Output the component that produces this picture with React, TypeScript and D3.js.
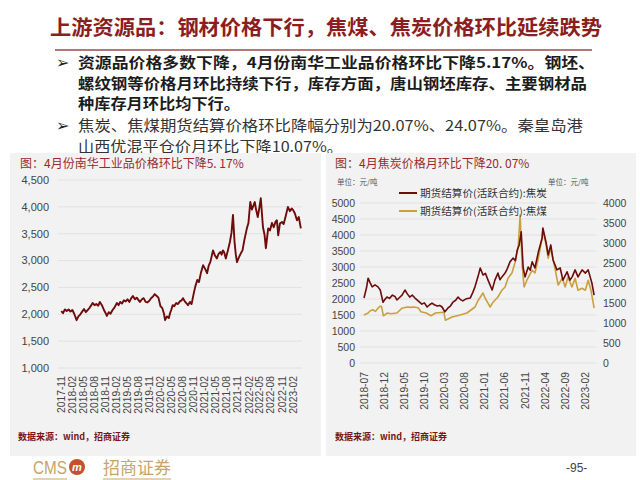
import React from "react";
import * as d3 from "d3";

// ---------- DATA ----------
const titleText = "上游资源品：钢材价格下行，焦煤、焦炭价格环比延续跌势";
const bullet1 = [
  "资源品价格多数下降，4月份南华工业品价格环比下降5.17%。钢坯、",
  "螺纹钢等价格月环比持续下行，库存方面，唐山钢坯库存、主要钢材品",
  "种库存月环比均下行。",
];
const bullet2 = [
  "焦炭、焦煤期货结算价格环比降幅分别为20.07%、24.07%。秦皇岛港",
  "山西优混平仓价月环比下降10.07%。",
];
const leftTitle = "图：4月份南华工业品价格环比下降5. 17%";
const rightTitle = "图：4月焦炭价格月环比下降20. 07%";
const sourceText = "数据来源：wind，招商证券";
const unitText = "单位：元/吨";
const legendNames = ["期货结算价(活跃合约):焦炭", "期货结算价(活跃合约):焦煤"];

const leftYTicks = [1000, 1500, 2000, 2500, 3000, 3500, 4000, 4500];
const leftXTicks = [
  "2017-11", "2018-02", "2018-05", "2018-08", "2018-11", "2019-02", "2019-05",
  "2019-08", "2019-11", "2020-02", "2020-05", "2020-08", "2020-11", "2021-02",
  "2021-05", "2021-08", "2021-11", "2022-02", "2022-05", "2022-08", "2022-11", "2023-02",
];
const rightYTicksL = [0, 500, 1000, 1500, 2000, 2500, 3000, 3500, 4000, 4500, 5000];
const rightYTicksR = [0, 500, 1000, 1500, 2000, 2500, 3000, 3500, 4000];
const rightXTicks = [
  "2018-07", "2018-12", "2019-05", "2019-10", "2020-03", "2020-08",
  "2021-01", "2021-06", "2021-11", "2022-04", "2022-09", "2023-02",
];

// 南华工业品指数
const nanhua: [string, number][] = [
  ["2017-11-03",2060],["2017-11-18",2020],["2017-12-03",2090],["2017-12-18",2060],["2018-01-03",2090],
  ["2018-01-18",2050],["2018-02-03",2080],["2018-02-18",2010],["2018-03-10",1890],["2018-03-25",1960],
  ["2018-04-10",2000],["2018-04-25",2050],["2018-05-10",2100],["2018-05-25",2040],["2018-06-10",2080],
  ["2018-06-25",2120],["2018-07-10",2170],["2018-07-20",2210],["2018-08-05",2170],["2018-08-20",2190],
  ["2018-09-05",2160],["2018-09-18",2230],["2018-10-05",2170],["2018-10-20",2090],["2018-11-05",2020],
  ["2018-11-15",1970],["2018-12-01",2040],["2018-12-15",2010],["2019-01-01",2080],["2019-01-15",2120],
  ["2019-02-06",2210],["2019-02-20",2170],["2019-03-05",2230],["2019-03-20",2200],["2019-04-05",2260],
  ["2019-04-20",2240],["2019-05-05",2280],["2019-05-20",2230],["2019-06-05",2300],["2019-06-18",2340],
  ["2019-07-05",2280],["2019-07-20",2310],["2019-08-05",2260],["2019-08-15",2230],["2019-09-01",2280],
  ["2019-09-15",2300],["2019-10-01",2230],["2019-10-15",2220],["2019-11-01",2250],["2019-11-15",2300],
  ["2019-12-01",2330],["2019-12-15",2375],["2020-01-01",2340],["2020-01-15",2310],["2020-02-01",2150],
  ["2020-02-15",2120],["2020-03-01",2010],["2020-03-10",1890],["2020-03-25",1960],["2020-04-10",1930],
  ["2020-04-20",2020],["2020-05-01",2090],["2020-05-12",2170],["2020-05-25",2150],["2020-06-10",2210],
  ["2020-06-25",2190],["2020-07-10",2240],["2020-07-25",2260],["2020-08-05",2300],["2020-08-20",2240],
  ["2020-09-05",2200],["2020-09-15",2170],["2020-10-01",2230],["2020-10-15",2190],["2020-11-01",2380],
  ["2020-11-15",2520],["2020-12-01",2640],["2020-12-15",2600],["2021-01-01",2780],["2021-01-18",2915],
  ["2021-02-05",2840],["2021-02-20",2765],["2021-03-05",2900],["2021-03-20",2980],["2021-04-10",3190],
  ["2021-04-25",3100],["2021-05-12",3040],["2021-05-25",3120],["2021-06-10",3160],["2021-06-20",3110],
  ["2021-07-01",3190],["2021-07-12",3150],["2021-07-25",3040],["2021-08-10",3180],["2021-08-28",3350],
  ["2021-09-10",3520],["2021-09-22",3850],["2021-10-05",3350],["2021-10-15",3120],["2021-10-25",2970],
  ["2021-11-10",3060],["2021-11-25",3130],["2021-12-10",3190],["2021-12-25",3380],["2022-01-15",3600],
  ["2022-01-28",3700],["2022-02-12",4090],["2022-02-25",3950],["2022-03-06",4000],["2022-03-21",4090],
  ["2022-04-01",3950],["2022-04-15",3810],["2022-04-28",3980],["2022-05-10",4160],["2022-05-28",3620],
  ["2022-06-10",3480],["2022-06-21",3230],["2022-07-10",3600],["2022-07-25",3560],["2022-08-10",3700],
  ["2022-08-25",3620],["2022-09-10",3730],["2022-09-20",3750],["2022-10-01",3470],["2022-10-15",3690],
  ["2022-11-01",3720],["2022-11-15",3680],["2022-12-01",3820],["2022-12-20",4000],["2023-01-05",3920],
  ["2023-01-20",3970],["2023-02-01",3940],["2023-02-15",3880],["2023-03-05",3750],["2023-03-20",3810],
  ["2023-04-06",3600],
];

// 焦炭 (left axis)
const coke: [string, number][] = [
  ["2018-07-01",2030],["2018-07-20",2350],["2018-08-01",2650],["2018-08-15",2520],["2018-09-01",2380],
  ["2018-09-22",2440],["2018-10-15",2380],["2018-11-01",2280],["2018-11-22",1900],["2018-12-05",1980],
  ["2018-12-22",2060],["2019-01-10",2020],["2019-02-01",2120],["2019-02-20",2080],["2019-03-07",1970],
  ["2019-03-25",2040],["2019-04-15",2120],["2019-05-07",2280],["2019-05-25",2160],["2019-06-12",2060],
  ["2019-07-01",2120],["2019-07-22",2030],["2019-08-15",1940],["2019-09-12",1840],["2019-10-01",1880],
  ["2019-10-22",1750],["2019-11-10",1820],["2019-11-28",1870],["2019-12-15",1820],["2020-01-07",1780],
  ["2020-01-25",1800],["2020-02-12",1750],["2020-03-04",1600],["2020-03-28",1720],["2020-04-15",1780],
  ["2020-05-04",1900],["2020-05-25",1960],["2020-06-12",2060],["2020-06-28",1990],["2020-07-18",1940],
  ["2020-08-15",2010],["2020-09-12",2030],["2020-10-01",2200],["2020-10-18",2380],["2020-11-10",2700],
  ["2020-11-27",2970],["2020-12-18",2750],["2021-01-05",2800],["2021-01-25",2590],["2021-02-25",2280],
  ["2021-03-18",2590],["2021-04-10",2810],["2021-04-25",2600],["2021-05-10",2690],["2021-06-03",2810],
  ["2021-06-20",2950],["2021-07-10",3160],["2021-08-03",3280],["2021-08-20",3200],["2021-09-03",3530],
  ["2021-09-18",3690],["2021-10-03",4100],["2021-10-18",2970],["2021-11-01",2690],["2021-11-25",3000],
  ["2021-12-10",2900],["2021-12-25",3160],["2022-01-15",2970],["2022-02-10",3470],["2022-03-10",3900],
  ["2022-03-16",4220],["2022-04-10",3750],["2022-04-25",3380],["2022-05-15",3690],["2022-06-01",3220],
  ["2022-07-01",2910],["2022-07-25",2970],["2022-08-15",2590],["2022-09-15",2850],["2022-10-07",2590],
  ["2022-10-25",2700],["2022-11-15",2910],["2022-12-07",2690],["2023-01-07",2910],["2023-02-01",2810],
  ["2023-02-22",2910],["2023-03-22",2500],["2023-04-08",2120],
];

// 焦煤 (right axis)
const coal: [string, number][] = [
  ["2018-07-01",1200],["2018-08-01",1250],["2018-08-15",1300],["2018-09-05",1330],["2018-09-25",1290],
  ["2018-10-15",1370],["2018-11-01",1420],["2018-11-10",1420],["2018-11-25",1180],["2018-12-25",1250],
  ["2019-01-20",1230],["2019-03-07",1250],["2019-04-15",1370],["2019-05-25",1400],["2019-06-20",1390],
  ["2019-07-15",1400],["2019-08-15",1380],["2019-09-05",1280],["2019-10-15",1250],["2019-11-20",1180],
  ["2019-12-25",1250],["2020-02-25",1270],["2020-03-08",1070],["2020-04-28",1150],["2020-06-27",1200],
  ["2020-08-18",1250],["2020-10-18",1400],["2020-11-12",1570],["2020-12-18",1750],["2021-01-03",1620],
  ["2021-02-10",1400],["2021-03-04",1520],["2021-04-10",1650],["2021-05-10",1820],["2021-06-03",1900],
  ["2021-06-25",2120],["2021-07-25",2250],["2021-08-18",2520],["2021-09-10",2900],["2021-09-25",3700],
  ["2021-10-10",2450],["2021-10-25",1900],["2021-11-15",2070],["2021-12-25",2320],["2022-01-15",2250],
  ["2022-02-10",2620],["2022-03-10",3120],["2022-03-16",3320],["2022-04-10",2950],["2022-04-25",2620],
  ["2022-05-15",2870],["2022-06-15",2370],["2022-07-10",1950],["2022-08-10",2120],["2022-09-01",1900],
  ["2022-09-22",2150],["2022-10-22",1900],["2022-11-15",2120],["2022-12-07",1820],["2023-01-07",1870],
  ["2023-02-01",1820],["2023-02-22",2070],["2023-03-15",1820],["2023-04-08",1370],
];

// ---------- COMPONENT ----------
const parse = d3.timeParse("%Y-%m-%d");
const parseM = d3.timeParse("%Y-%m");
const CJK = "'Noto Sans CJK SC', 'Noto Sans', sans-serif";
const NUM = "'Liberation Sans', Arial, sans-serif";
const DARK_RED = "#6E0B0B";
const GOLD = "#C9A040";
const TITLE_RED = "#8B1E1E";

export default function App() {
  // Left chart scales
  const lx = d3.scaleTime().domain([parseM("2017-11")!, parseM("2023-05")!]).range([61, 61 + 66 * 3.68]);
  const ly = d3.scaleLinear().domain([1000, 4500]).range([368, 180]);
  const lLine = d3.line<[string, number]>().x((d) => lx(parse(d[0])!)).y((d) => ly(d[1]));

  // Right chart scales
  const rx = d3.scaleTime().domain([parseM("2018-07")!, parseM("2023-05")!]).range([364, 364 + 58 * 4.02]);
  const ryL = d3.scaleLinear().domain([0, 5000]).range([363, 203]);
  const ryR = d3.scaleLinear().domain([0, 4000]).range([363, 203]);
  const cokeLine = d3.line<[string, number]>().x((d) => rx(parse(d[0])!)).y((d) => ryL(d[1]));
  const coalLine = d3.line<[string, number]>().x((d) => rx(parse(d[0])!)).y((d) => ryR(d[1]));

  const fmt = d3.format(",");
  const b1Widths = [517, 509, 162];
  const b2Widths = [505, 265];
  const b1Y = [68, 88.5, 109];
  const b2Y = [131, 151.5];

  return (
    <svg width={640} height={480} style={{ position: "absolute", left: 0, top: 0, background: "#fff" }}>
      {/* Title */}
      <text x={50} y={35} fontFamily={CJK} fontSize={20.5} fontWeight={700} fill={TITLE_RED}
        textLength={552} lengthAdjust="spacingAndGlyphs">{titleText}</text>
      <line x1={55} x2={592} y1={50} y2={50} stroke="#9B4A4A" strokeWidth={1.5} />

      {/* Bullets */}
      <text x={56} y={68} fontFamily="'DejaVu Sans', sans-serif" fontSize={16} fill="#222">➢</text>
      {bullet1.map((t, i) => (
        <text key={"b1" + i} x={78} y={b1Y[i]} fontFamily={CJK} fontSize={14.5} fontWeight={700}
          fill="#1c1c1c" textLength={b1Widths[i]} lengthAdjust="spacingAndGlyphs">{t}</text>
      ))}
      <text x={56} y={131} fontFamily="'DejaVu Sans', sans-serif" fontSize={16} fill="#222">➢</text>
      {bullet2.map((t, i) => (
        <text key={"b2" + i} x={78} y={b2Y[i]} fontFamily={CJK} fontSize={14.5} fontWeight={400}
          fill="#333" textLength={b2Widths[i]} lengthAdjust="spacingAndGlyphs">{t}</text>
      ))}

      {/* Panels */}
      <rect x={10} y={153} width={311} height={303} fill="#f2f2f2" />
      <rect x={326} y={153} width={310} height={303} fill="#f2f2f2" />

      {/* ---- Left chart ---- */}
      <text x={20} y={168} fontFamily={CJK} fontSize={12} fill="#9A2A2A">{leftTitle}</text>
      {leftYTicks.map((v) => (
        <g key={"ly" + v}>
          <line x1={58} x2={302} y1={ly(v)} y2={ly(v)} stroke="#dddddd" strokeWidth={0.8} />
          <text x={49} y={ly(v)} dy="0.35em" textAnchor="end" fontFamily={NUM} fontSize={11} fill="#444">{fmt(v)}</text>
        </g>
      ))}
      {leftXTicks.map((t) => (
        <text key={"lx" + t} transform={`translate(${lx(parseM(t)!)},376) rotate(-90)`} dy="0.35em"
          textAnchor="end" fontFamily={NUM} fontSize={10.3} fill="#444">{t}</text>
      ))}
      <path d={lLine(nanhua) || ""} fill="none" stroke={DARK_RED} strokeWidth={1.9} strokeLinejoin="round" />
      <text x={18} y={440} fontFamily={CJK} fontSize={9} fontWeight={700} fill="#7B1515">{sourceText}</text>

      {/* ---- Right chart ---- */}
      <text x={335} y={168} fontFamily={CJK} fontSize={12} fill="#9A2A2A">{rightTitle}</text>
      <text x={337} y={185} fontFamily={CJK} fontSize={7.5} fill="#555">{unitText}</text>
      <text x={548} y={185} fontFamily={CJK} fontSize={7.5} fill="#555">{unitText}</text>
      {rightYTicksL.map((v) => (
        <g key={"ryl" + v}>
          <line x1={360} x2={596} y1={ryL(v)} y2={ryL(v)} stroke="#dddddd" strokeWidth={0.8} />
          <text x={355} y={ryL(v)} dy="0.35em" textAnchor="end" fontFamily={NUM} fontSize={10.5} fill="#444">{v}</text>
        </g>
      ))}
      {rightYTicksR.map((v) => (
        <text key={"ryr" + v} x={603} y={ryR(v)} dy="0.35em" textAnchor="start" fontFamily={NUM} fontSize={10.5} fill="#444">{v}</text>
      ))}
      {rightXTicks.map((t) => (
        <text key={"rx" + t} transform={`translate(${rx(parseM(t)!)},372) rotate(-90)`} dy="0.35em"
          textAnchor="end" fontFamily={NUM} fontSize={10.3} fill="#444">{t}</text>
      ))}
      <path d={coalLine(coal) || ""} fill="none" stroke={GOLD} strokeWidth={1.6} strokeLinejoin="round" />
      <path d={cokeLine(coke) || ""} fill="none" stroke={DARK_RED} strokeWidth={1.6} strokeLinejoin="round" />

      {/* Legend */}
      <line x1={399} x2={417} y1={193} y2={193} stroke={DARK_RED} strokeWidth={2} />
      <text x={420} y={193} dy="0.35em" fontFamily={CJK} fontSize={10} fill="#333"
        textLength={127} lengthAdjust="spacingAndGlyphs">{legendNames[0]}</text>
      <line x1={399} x2={417} y1={211} y2={211} stroke={GOLD} strokeWidth={2} />
      <text x={420} y={211} dy="0.35em" fontFamily={CJK} fontSize={10} fill="#333"
        textLength={127} lengthAdjust="spacingAndGlyphs">{legendNames[1]}</text>
      <text x={335} y={440} fontFamily={CJK} fontSize={9} fontWeight={700} fill="#7B1515">{sourceText}</text>

      {/* Footer */}
      <text x={33} y={474} fontFamily={NUM} fontSize={18} fill="#C9A46A" textLength={34} lengthAdjust="spacingAndGlyphs">CMS</text>
      <circle cx={77} cy={467} r={8} fill="#C5502A" />
      <text x={77} y={471} textAnchor="middle" fontFamily={NUM} fontSize={11} fontWeight={700} fontStyle="italic" fill="#fff">m</text>
      <text x={103} y={474} fontFamily={CJK} fontSize={17} fill="#C9A46A" textLength={68} lengthAdjust="spacingAndGlyphs">招商证券</text>
      <line x1={33} x2={67} y1={479} y2={479} stroke="#C9A46A" strokeWidth={1} />
      <line x1={103} x2={171} y1={479} y2={479} stroke="#C9A46A" strokeWidth={1} />
      <text x={566} y={472} fontFamily={NUM} fontSize={12} fill="#444">-95-</text>
    </svg>
  );
}
